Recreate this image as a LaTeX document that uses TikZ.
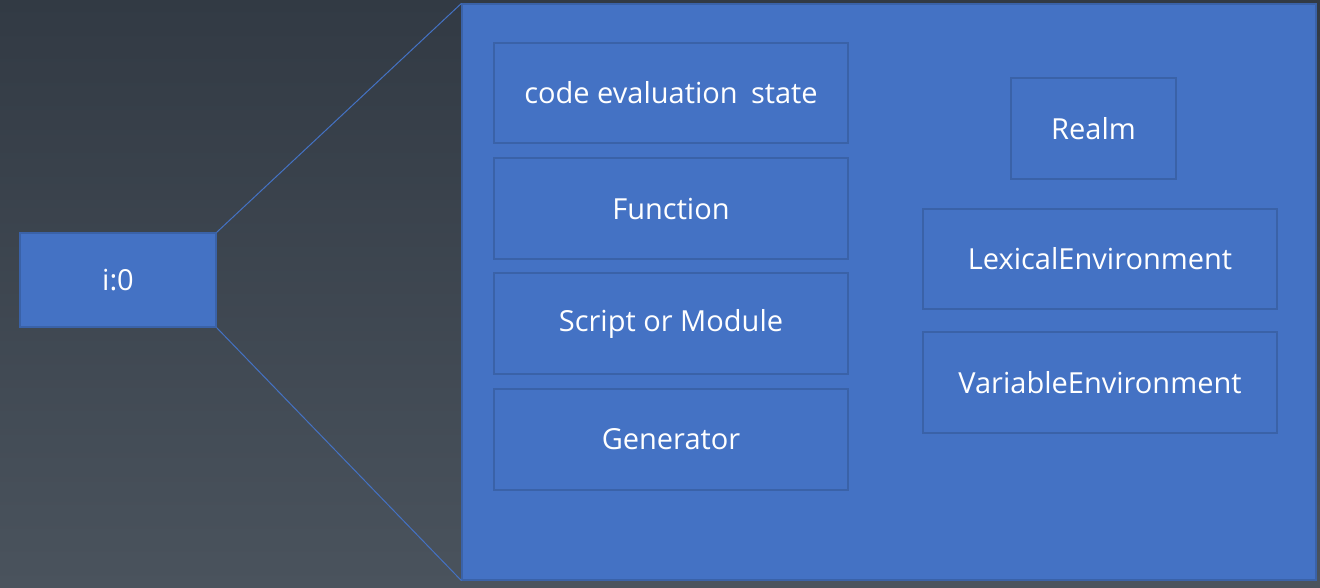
\documentclass[tikz,border=0pt]{standalone}
\usepackage{fontspec}
\setmainfont{Open Sans}
\definecolor{bgtop}{HTML}{323A44}
\definecolor{bgbot}{HTML}{4A535D}
\definecolor{boxblue}{HTML}{4472C4}
\definecolor{boxedge}{HTML}{3A62A8}
\begin{document}
\begin{tikzpicture}[x=1pt,y=-1pt,
  blk/.style={draw=boxedge,line width=1.2pt,fill=boxblue,text=white,inner sep=0pt,font=\fontsize{29}{34}\selectfont},
  inner/.style={draw=boxedge,line width=1.2pt,text=white,inner sep=0pt,font=\fontsize{29}{34}\selectfont},
  link/.style={draw=boxblue,line width=1pt}]
\shade[top color=bgtop,bottom color=bgbot] (0,0) rectangle (1320,587);
\useasboundingbox (0,0) rectangle (1320,587);
\node[blk,minimum width=196pt,minimum height=94pt] (i0) at (118,280) {i:0};
\node[blk,minimum width=854pt,minimum height=576pt] (big) at (889,292) {};
\draw[link] (i0.north east) -- (big.north west);
\draw[link] (i0.south east) -- (big.south west);
\node[inner,minimum width=354pt,minimum height=100pt] (ces) at (671,93) {code evaluation\hspace{0.2em} state};
\node[inner,minimum width=354pt,minimum height=101pt] (fn) at (671,208.5) {Function};
\node[inner,minimum width=354pt,minimum height=101pt] (sm) at (671,323.5) {Script or Module};
\node[inner,minimum width=354pt,minimum height=101pt] (gen) at (671,439.5) {Generator};
\node[inner,minimum width=165pt,minimum height=101pt] (realm) at (1093.5,128.5) {Realm};
\node[inner,minimum width=354pt,minimum height=100pt] (lex) at (1100,259) {LexicalEnvironment};
\node[inner,minimum width=354pt,minimum height=101pt] (var) at (1100,382.5) {VariableEnvironment};
\end{tikzpicture}
\end{document}
